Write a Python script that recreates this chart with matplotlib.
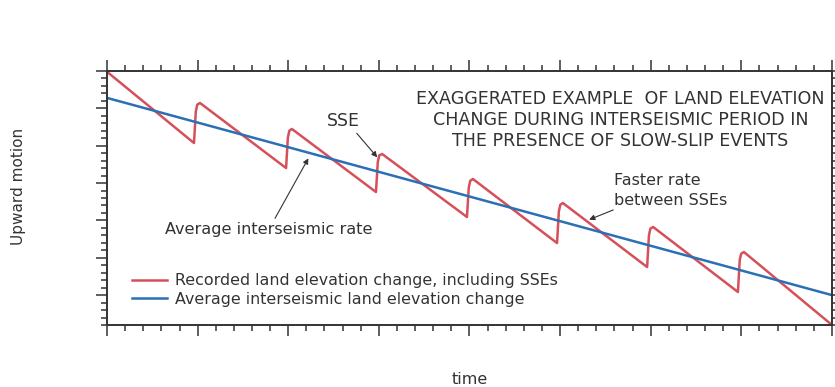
import matplotlib.pyplot as plt
from matplotlib.ticker import MultipleLocator, NullFormatter

# valores (tiempo y elevacion en unidades arbitrarias)
inicio_t, inicio_v = 0.0, 29.9
fin_t, fin_v = 40.0, -4.0
valle_t = [4.80, 9.88, 14.84, 19.86, 24.83, 29.80, 34.81]
valle_v = [20.36, 17.01, 13.80, 10.46, 6.97, 3.76, 0.42]
hombro_t = [4.90, 9.98, 14.94, 19.96, 24.93, 29.90, 34.91]
hombro_v = [24.6, 21.1, 17.8, 14.4, 11.2, 8.0, 4.7]
cresta_t = [4.98, 10.06, 15.02, 20.04, 25.01, 29.98, 34.99]
cresta_v = [25.5, 22.0, 18.7, 15.3, 12.1, 8.9, 5.55]
pico_t = [5.13, 10.20, 15.18, 20.19, 25.15, 30.13, 35.14]
pico_v = [25.72, 22.24, 18.89, 15.54, 12.33, 9.12, 5.77]

promedio_t = [0.0, 40.0]
promedio_v = [26.4, 0.0]

rojo = '#d6505a'
azul = '#2b70b5'
gris = '#333333'

# armar la curva registrada (diente de sierra)
reg_t = [inicio_t]
reg_v = [inicio_v]
for i in range(len(valle_t)):
    reg_t += [valle_t[i], hombro_t[i], cresta_t[i], pico_t[i]]
    reg_v += [valle_v[i], hombro_v[i], cresta_v[i], pico_v[i]]
reg_t.append(fin_t)
reg_v.append(fin_v)

fig = plt.figure(figsize=(8.35, 3.87), dpi=100)
ax = fig.add_axes([107 / 835, 1 - 325 / 387, 725 / 835, 254 / 387])

ax.plot(reg_t, reg_v, color=rojo, lw=1.8, solid_joinstyle='round',
        label='Recorded land elevation change, including SSEs')
ax.plot(promedio_t, promedio_v, color=azul, lw=1.8,
        label='Average interseismic land elevation change')

ax.set_xlim(0, 40)
ax.set_ylim(-4, 30)

# ticks hacia afuera en los cuatro lados, sin etiquetas
ax.xaxis.set_major_locator(MultipleLocator(5))
ax.xaxis.set_minor_locator(MultipleLocator(1))
ax.yaxis.set_major_locator(MultipleLocator(5))
ax.yaxis.set_minor_locator(MultipleLocator(1))
ax.xaxis.set_major_formatter(NullFormatter())
ax.yaxis.set_major_formatter(NullFormatter())
ax.tick_params(which='both', direction='out', top=True, right=True,
               color=gris, width=1.1)
ax.tick_params(which='major', length=8)
ax.tick_params(which='minor', length=4.5)
for s in ax.spines.values():
    s.set_linewidth(1.4)
    s.set_color(gris)

ax.text(28.33, 23.44, 'EXAGGERATED EXAMPLE  OF LAND ELEVATION\n'
        'CHANGE DURING INTERSEISMIC PERIOD IN\n'
        'THE PRESENCE OF SLOW-SLIP EVENTS',
        ha='center', va='center', fontsize=12.6, linespacing=1.22, color=gris)

flecha = dict(arrowstyle='-|>', color=gris, lw=0.8, mutation_scale=8,
              shrinkA=0, shrinkB=0)
ax.annotate('', xy=(14.91, 18.45), xytext=(13.78, 21.66), arrowprops=flecha)
ax.text(13.02, 23.31, 'SSE', ha='center', va='center', fontsize=12.5, color=gris)

ax.annotate('', xy=(11.11, 18.31), xytext=(9.27, 10.28), arrowprops=flecha)
ax.text(8.93, 8.85, 'Average interseismic rate', ha='center', va='center',
        fontsize=11.6, color=gris)

ax.annotate('', xy=(26.6, 10.1), xytext=(27.93, 11.4), arrowprops=flecha)
ax.text(28.0, 14.0, 'Faster rate\nbetween SSEs', ha='left', va='center',
        fontsize=11.5, linespacing=1.35, color=gris)

ax.legend(loc='upper left', bbox_to_anchor=(0.0345, 0.203), frameon=False,
          borderpad=0, borderaxespad=0, handlelength=2.2, handletextpad=0.5,
          labelspacing=0.22, fontsize=11.4, labelcolor=gris)

fig.text(19 / 835, 1 - 186 / 387, 'Upward motion', rotation=90,
         ha='center', va='center', fontsize=11, color=gris)
fig.text(470 / 835, 1 - 379 / 387, 'time', ha='center', va='center',
         fontsize=11.5, color=gris)

fig.savefig('out.png', dpi=100)
plt.close(fig)
